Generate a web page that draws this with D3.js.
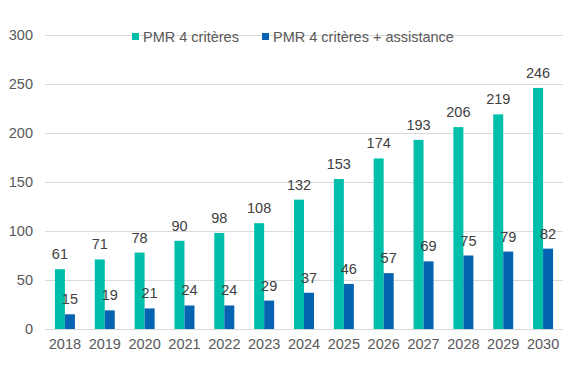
<!DOCTYPE html>
<html><head><meta charset="utf-8">
<script src="https://cdn.jsdelivr.net/npm/d3@7"></script>
<style>body{margin:0;background:#fff}svg{display:block;font-family:"Liberation Sans",Arial,sans-serif}</style>
</head><body>
<svg id="c" width="576" height="376"></svg>
<script>
const years = ["2018","2019","2020","2021","2022","2023","2024","2025","2026","2027","2028","2029","2030"];
const pmr4 = [61,71,78,90,98,108,132,153,174,193,206,219,246];
const pmr4Assist = [15,19,21,24,24,29,37,46,57,69,75,79,82];
const seriesNames = ["PMR 4 critères","PMR 4 critères + assistance"];
const yTicks = [0,50,100,150,200,250,300];
const colors = ["#00BFAA","#0563B1"];

(function(){
const svg = d3.select("#c");
const mLeft = 45, mRight = 563, mTop = 35, mBottom = 329;
const fs = 14.5;
const x = d3.scaleBand().domain(years).range([mLeft, mRight]).paddingInner(0).paddingOuter(0);
const y = d3.scaleLinear().domain([0,300]).range([mBottom, mTop]);
const barW = 10;

// gridlines
svg.append("g").selectAll("line").data(yTicks).join("line")
  .attr("x1", mLeft).attr("x2", mRight)
  .attr("y1", d => Math.round(y(d)) + 0.5).attr("y2", d => Math.round(y(d)) + 0.5)
  .attr("stroke", "#D9D9D9").attr("stroke-width", 1);

// y axis labels
const yAxis = d3.axisLeft(y).tickValues(yTicks).tickSize(0).tickPadding(12);
const ya = svg.append("g").attr("transform", `translate(${mLeft},0)`).call(yAxis);
ya.select(".domain").remove();
ya.selectAll("text").attr("font-size", fs).attr("fill", "#595959").attr("font-family", "Liberation Sans, Arial, sans-serif");

// x axis labels
const xAxis = d3.axisBottom(x).tickSize(0).tickPadding(10);
const xa = svg.append("g").attr("transform", `translate(0,${mBottom})`).call(xAxis);
xa.select(".domain").remove();
xa.selectAll("text").attr("font-size", fs).attr("fill", "#595959").attr("font-family", "Liberation Sans, Arial, sans-serif");

const series = [pmr4, pmr4Assist];
series.forEach((vals, si) => {
  const g = svg.append("g");
  const cx = (d, i) => x(years[i]) + x.bandwidth()/2 - barW + si*barW;
  g.selectAll("rect").data(vals).join("rect")
    .attr("x", cx).attr("width", barW)
    .attr("y", d => y(d)).attr("height", d => y(0) - y(d))
    .attr("fill", colors[si]);
  g.selectAll("text").data(vals).join("text")
    .attr("x", (d, i) => cx(d, i) + barW/2)
    .attr("y", d => y(d) - 10)
    .attr("text-anchor", "middle")
    .attr("font-size", fs).attr("fill", "#404040")
    .text(d => d);
});

// legend
const legX = [132, 262];
const lg = svg.append("g");
seriesNames.forEach((n, i) => {
  lg.append("rect").attr("x", legX[i]).attr("y", 33).attr("width", 7).attr("height", 7).attr("fill", colors[i]);
  lg.append("text").attr("x", legX[i] + 11).attr("y", 41.5).attr("font-size", fs).attr("fill", "#595959").text(n);
});
})();
</script>
</body></html>
